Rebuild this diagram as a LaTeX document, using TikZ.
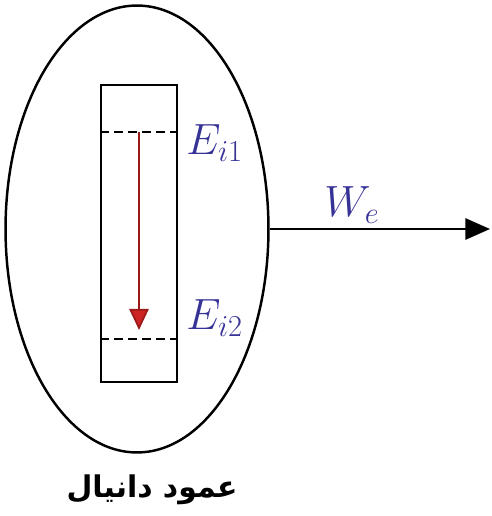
\documentclass[tikz,border=0pt]{standalone}
\usepackage{fontspec}
\newfontfamily\arabicfont[Script=Arabic]{DejaVu Sans}
\TeXXeTstate=1
\usepackage{tikz}
\usetikzlibrary{positioning}
\usetikzlibrary{shapes.geometric}
\usetikzlibrary{arrows.meta}

\definecolor{levelblue}{RGB}{55,50,150}
\definecolor{dropred}{RGB}{205,35,35}

\tikzset{
  outline/.style={draw, line width=1.4pt, inner sep=0pt},
  level/.style={dashed, line width=1pt, dash pattern=on 5pt off 3pt},
  levellabel/.style={text=levelblue, font=\fontsize{27}{30}\selectfont, anchor=west, inner sep=0pt},
}

\begin{document}
\begin{tikzpicture}[x=0.02cm, y=-0.02cm]
    \useasboundingbox (0,0) rectangle (492,516);

    % electron column
    \node[outline, ellipse, minimum width=5.26cm, minimum height=8.94cm] (column) at (137,229) {};
    \node[outline, rectangle, minimum width=1.52cm, minimum height=5.94cm] (well) at (139,233.5) {};

    % energy levels
    \coordinate (up) at (139,132);
    \coordinate (down) at (139,339);
    \draw[level] (well.west |- up) -- (well.east |- up);
    \draw[level] (well.west |- down) -- (well.east |- down);
    \coordinate (tip) at (139,330);
    \draw[dropred!75!black, line width=1pt, -{Triangle[length=12pt, width=11pt, fill=dropred]}] (up) -- (tip);

    \node[levellabel] (e1) at (186,143) {$E_{i1}$};
    \node[levellabel] (e2) at (186,318) {$E_{i2}$};

    % work out
    \coordinate (out) at (490,229);
    \draw[line width=1.4pt, -{Triangle[length=14pt, width=12pt]}] (column.east) -- (column.east -| out);
    \node[levellabel, anchor=center] (w) at (352,205) {$W_e$};

    \node (name) at (152,490) {\arabicfont\bfseries\fontsize{17}{20}\selectfont\beginR عمود دانیال\endR};
\end{tikzpicture}
\end{document}
